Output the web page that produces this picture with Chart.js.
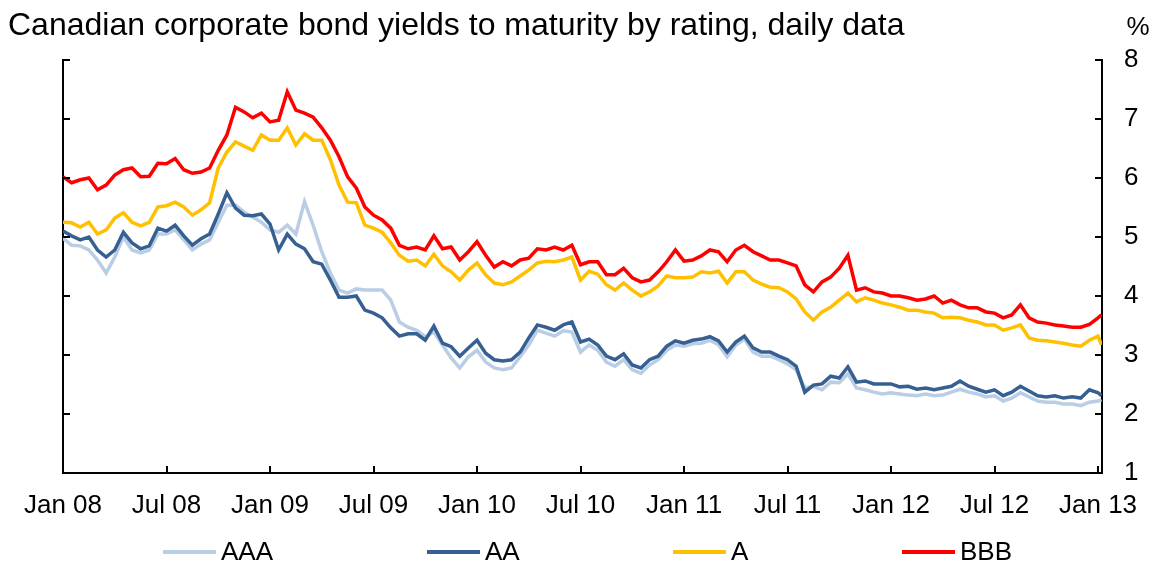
<!DOCTYPE html>
<html>
<head>
<meta charset="utf-8">
<script src="https://cdn.jsdelivr.net/npm/chart.js@4.4.1/dist/chart.umd.min.js"></script>
<style>
html,body{margin:0;padding:0;background:#fff;}
canvas{display:block;}
</style>
</head>
<body>
<canvas id="c" width="1159" height="567"></canvas>
<script>
const titleText = 'Canadian corporate bond yields to maturity by rating, daily data';
const unitText = '%';
const seriesNames = ['AAA', 'AA', 'A', 'BBB'];
const seriesColors = ['#b9cde5', '#376092', '#ffc000', '#ff0000'];

const dates = [
'2008-01-01','2008-01-16','2008-02-01','2008-02-16','2008-03-01','2008-03-16','2008-04-01','2008-04-16','2008-05-01','2008-05-16','2008-06-01','2008-06-16',
'2008-07-01','2008-07-16','2008-08-01','2008-08-16','2008-09-01','2008-09-16','2008-10-01','2008-10-16','2008-11-01','2008-11-16','2008-12-01','2008-12-16',
'2009-01-01','2009-01-16','2009-02-01','2009-02-16','2009-03-01','2009-03-16','2009-04-01','2009-04-16','2009-05-01','2009-05-16','2009-06-01','2009-06-16',
'2009-07-01','2009-07-16','2009-08-01','2009-08-16','2009-09-01','2009-09-16','2009-10-01','2009-10-16','2009-11-01','2009-11-16','2009-12-01','2009-12-16',
'2010-01-01','2010-01-16','2010-02-01','2010-02-16','2010-03-01','2010-03-16','2010-04-01','2010-04-16','2010-05-01','2010-05-16','2010-06-01','2010-06-16',
'2010-07-01','2010-07-16','2010-08-01','2010-08-16','2010-09-01','2010-09-16','2010-10-01','2010-10-16','2010-11-01','2010-11-16','2010-12-01','2010-12-16',
'2011-01-01','2011-01-16','2011-02-01','2011-02-16','2011-03-01','2011-03-16','2011-04-01','2011-04-16','2011-05-01','2011-05-16','2011-06-01','2011-06-16',
'2011-07-01','2011-07-16','2011-08-01','2011-08-16','2011-09-01','2011-09-16','2011-10-01','2011-10-16','2011-11-01','2011-11-16','2011-12-01','2011-12-16',
'2012-01-01','2012-01-16','2012-02-01','2012-02-16','2012-03-01','2012-03-16','2012-04-01','2012-04-16','2012-05-01','2012-05-16','2012-06-01','2012-06-16',
'2012-07-01','2012-07-16','2012-08-01','2012-08-16','2012-09-01','2012-09-16','2012-10-01','2012-10-16','2012-11-01','2012-11-16','2012-12-01','2012-12-16',
'2013-01-01','2013-01-07'
];

const aaa = [
4.98,4.86,4.85,4.78,4.61,4.39,4.66,5.00,4.78,4.73,
4.78,5.05,5.05,5.12,4.95,4.78,4.88,4.95,5.25,5.54,
5.54,5.42,5.34,5.25,5.12,5.08,5.20,5.05,5.60,5.20,
4.75,4.39,4.10,4.05,4.12,4.10,4.10,4.10,3.93,3.56,
3.47,3.42,3.31,3.39,3.17,2.95,2.78,2.97,3.08,2.88,
2.78,2.75,2.78,2.97,3.17,3.42,3.37,3.32,3.41,3.39,
3.05,3.17,3.08,2.88,2.81,2.92,2.75,2.69,2.83,2.92,
3.08,3.17,3.15,3.19,3.20,3.25,3.17,2.97,3.17,3.27,
3.05,2.98,2.98,2.92,2.85,2.75,2.44,2.47,2.41,2.54,
2.53,2.68,2.44,2.41,2.37,2.34,2.36,2.34,2.32,2.31,
2.34,2.31,2.32,2.37,2.42,2.37,2.34,2.29,2.31,2.22,
2.27,2.36,2.29,2.22,2.20,2.20,2.17,2.17,2.14,2.20,
2.22,2.24
];

const aa = [
5.10,5.02,4.95,5.00,4.78,4.66,4.78,5.08,4.90,4.80,
4.85,5.15,5.10,5.20,5.02,4.86,4.97,5.05,5.39,5.75,
5.49,5.37,5.36,5.39,5.22,4.78,5.05,4.88,4.80,4.58,
4.54,4.27,3.98,3.98,4.00,3.76,3.71,3.63,3.46,3.32,
3.36,3.36,3.25,3.49,3.20,3.14,2.98,3.12,3.25,3.03,
2.92,2.90,2.92,3.05,3.29,3.51,3.47,3.42,3.51,3.56,
3.22,3.27,3.17,2.98,2.92,3.02,2.83,2.78,2.92,2.98,
3.15,3.24,3.20,3.25,3.27,3.31,3.24,3.05,3.22,3.32,
3.12,3.05,3.05,2.98,2.92,2.81,2.37,2.49,2.51,2.64,
2.61,2.80,2.54,2.56,2.51,2.51,2.51,2.46,2.47,2.42,
2.44,2.41,2.44,2.47,2.56,2.47,2.42,2.37,2.41,2.31,
2.37,2.47,2.39,2.31,2.29,2.31,2.27,2.29,2.27,2.41,
2.36,2.31
];

const aRated = [
5.25,5.24,5.17,5.25,5.05,5.12,5.32,5.41,5.25,5.19,
5.25,5.51,5.53,5.59,5.51,5.37,5.46,5.58,6.17,6.44,
6.61,6.54,6.47,6.73,6.64,6.64,6.85,6.56,6.75,6.64,
6.64,6.31,5.88,5.59,5.58,5.20,5.15,5.08,4.90,4.69,
4.59,4.61,4.51,4.71,4.51,4.41,4.27,4.44,4.56,4.36,
4.22,4.19,4.24,4.34,4.44,4.56,4.59,4.58,4.61,4.66,
4.27,4.42,4.37,4.19,4.10,4.22,4.10,4.00,4.07,4.17,
4.34,4.31,4.31,4.32,4.41,4.39,4.42,4.22,4.41,4.41,
4.27,4.20,4.15,4.14,4.07,3.95,3.73,3.59,3.73,3.81,
3.93,4.05,3.90,3.97,3.93,3.88,3.85,3.81,3.76,3.76,
3.73,3.71,3.63,3.64,3.63,3.59,3.56,3.51,3.51,3.42,
3.46,3.51,3.29,3.25,3.24,3.22,3.20,3.17,3.15,3.25,
3.32,3.17
];

const bbb = [
6.02,5.92,5.97,6.00,5.80,5.88,6.05,6.14,6.17,6.02,
6.03,6.25,6.24,6.33,6.14,6.08,6.10,6.17,6.47,6.73,
7.20,7.12,7.02,7.10,6.95,6.98,7.46,7.15,7.10,7.03,
6.85,6.64,6.36,6.02,5.83,5.51,5.37,5.29,5.15,4.86,
4.80,4.83,4.78,5.02,4.80,4.83,4.61,4.75,4.92,4.69,
4.49,4.58,4.51,4.61,4.64,4.80,4.78,4.83,4.78,4.86,
4.53,4.58,4.58,4.36,4.36,4.47,4.31,4.24,4.27,4.41,
4.58,4.78,4.59,4.61,4.68,4.78,4.75,4.58,4.78,4.86,
4.75,4.68,4.61,4.61,4.56,4.51,4.19,4.07,4.24,4.32,
4.47,4.69,4.10,4.14,4.07,4.05,4.00,4.00,3.97,3.93,
3.95,4.00,3.88,3.93,3.85,3.80,3.80,3.73,3.71,3.63,
3.68,3.85,3.63,3.56,3.54,3.51,3.49,3.47,3.47,3.52,
3.63,3.68
];

const tickMonths = [0, 6, 12, 18, 24, 30, 36, 42, 48, 54, 60];
const tickLabels = ['Jan 08','Jul 08','Jan 09','Jul 09','Jan 10','Jul 10','Jan 11','Jul 11','Jan 12','Jul 12','Jan 13'];
const yTicks = [1, 2, 3, 4, 5, 6, 7, 8];

function monthOffset(s) {
  const [y, m, d] = s.split('-').map(Number);
  return (y - 2008) * 12 + (m - 1) + (d - 1) / 30;
}
const xs = dates.map(monthOffset);
const toPoints = vals => vals.map((v, i) => ({ x: xs[i], y: v }));

const FONT = '"Liberation Sans", Arial, Helvetica, sans-serif';

const legendX = [163, 427, 673, 902];

const decor = {
  id: 'decor',
  afterDraw(chart) {
    const ctx = chart.ctx;
    const xS = chart.scales.x, yS = chart.scales.y;
    const a = chart.chartArea;
    ctx.save();
    ctx.strokeStyle = '#000';
    ctx.lineWidth = 2;
    tickMonths.forEach(v => {
      const px = Math.round(xS.getPixelForValue(v));
      ctx.beginPath(); ctx.moveTo(px, a.bottom); ctx.lineTo(px, a.bottom - 7); ctx.stroke();
    });
    yTicks.forEach(v => {
      const py = Math.round(yS.getPixelForValue(v));
      ctx.beginPath(); ctx.moveTo(a.left, py); ctx.lineTo(a.left + 7, py); ctx.stroke();
      ctx.beginPath(); ctx.moveTo(a.right, py); ctx.lineTo(a.right - 7, py); ctx.stroke();
    });
    ctx.fillStyle = '#000';
    ctx.textBaseline = 'alphabetic';
    ctx.textAlign = 'left';
    ctx.font = '32px ' + FONT;
    ctx.fillText(titleText, 8, 35);
    ctx.font = '26px ' + FONT;
    ctx.textAlign = 'center';
    ctx.fillText(unitText, 1138, 35);
    // legend
    ctx.textAlign = 'left';
    ctx.textBaseline = 'middle';
    chart.data.datasets.forEach((ds, i) => {
      const lx = legendX[i], ly = 552;
      ctx.strokeStyle = ds.borderColor;
      ctx.lineWidth = 4;
      ctx.beginPath(); ctx.moveTo(lx, ly); ctx.lineTo(lx + 53, ly); ctx.stroke();
      ctx.fillStyle = '#000';
      ctx.fillText(ds.label, lx + 58, ly + 1);
    });
    ctx.restore();
  }
};

const seriesVals = [aaa, aa, aRated, bbb];
const drawOrder = [4, 3, 2, 1];

new Chart(document.getElementById('c'), {
  type: 'line',
  data: {
    datasets: seriesVals.map((vals, i) => ({
      label: seriesNames[i],
      data: toPoints(vals),
      borderColor: seriesColors[i],
      backgroundColor: seriesColors[i],
      borderWidth: 3.5,
      pointRadius: 0,
      tension: 0,
      fill: false,
      order: drawOrder[i]
    }))
  },
  options: {
    responsive: false,
    animation: false,
    devicePixelRatio: 1,
    layout: { padding: { left: 8, top: 60, right: 0, bottom: 0 } },
    plugins: {
      legend: { display: false },
      title: { display: false },
      tooltip: { enabled: false }
    },
    scales: {
      x: {
        type: 'linear',
        min: 0,
        max: 60.23,
        afterBuildTicks: s => { s.ticks = tickMonths.map(v => ({ value: v })); },
        afterFit: s => { s.height = 94; },
        grid: { display: false, drawTicks: false },
        border: { display: true, color: '#000', width: 2 },
        ticks: {
          autoSkip: false,
          maxRotation: 0,
          padding: 17,
          color: '#000',
          font: { family: FONT, size: 26 },
          callback: v => { const k = tickMonths.indexOf(v); return k >= 0 ? tickLabels[k] : ''; }
        }
      },
      yL: {
        type: 'linear',
        position: 'left',
        min: 1,
        max: 8,
        afterFit: s => { s.width = 55; },
        grid: { display: false, drawTicks: false },
        border: { display: true, color: '#000', width: 2 },
        ticks: { display: false, stepSize: 1 }
      },
      y: {
        type: 'linear',
        position: 'right',
        min: 1,
        max: 8,
        afterBuildTicks: s => { s.ticks = yTicks.map(v => ({ value: v })); },
        afterFit: s => { s.width = 57; },
        grid: { display: false, drawTicks: false },
        border: { display: true, color: '#000', width: 2 },
        ticks: {
          padding: 22,
          color: '#000',
          font: { family: FONT, size: 26 },
          callback: v => String(v)
        }
      }
    }
  },
  plugins: [decor]
});
</script>
</body>
</html>
